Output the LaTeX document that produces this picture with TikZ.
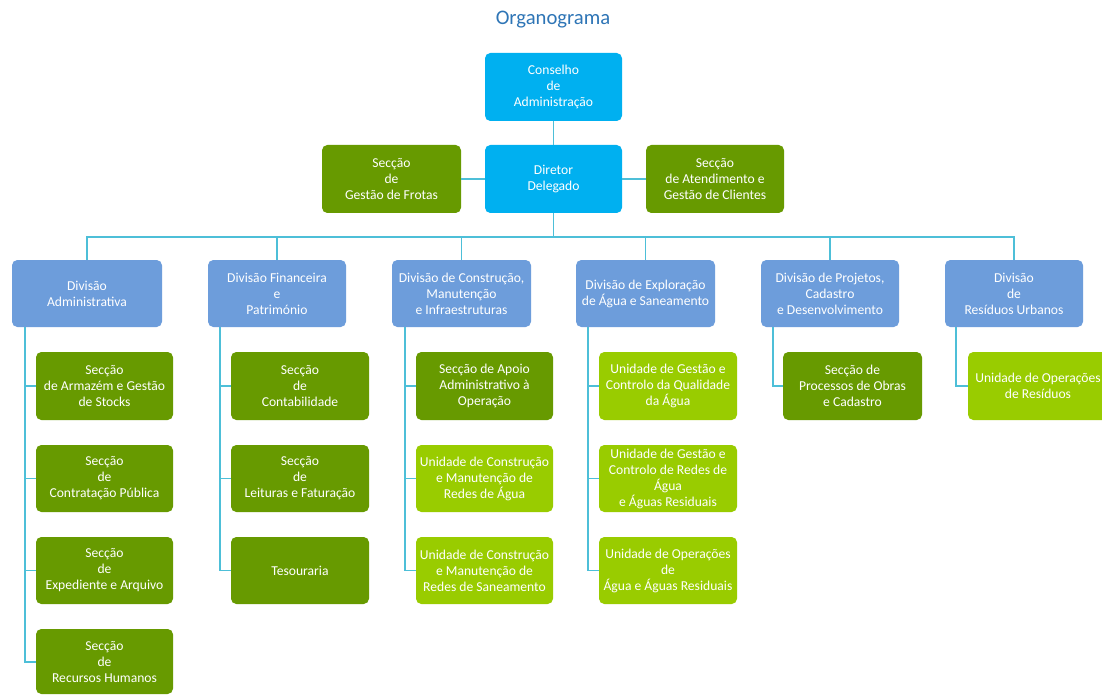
\documentclass[tikz,border=0pt]{standalone}
\usepackage{fontspec}
\setmainfont{Carlito}
\definecolor{cyanbox}{HTML}{00B0F0}
\definecolor{divblue}{HTML}{6D9DDB}
\definecolor{darkgreen}{HTML}{679A00}
\definecolor{lightgreen}{HTML}{99CC00}
\definecolor{linec}{HTML}{4DBFD8}
\definecolor{titleblue}{HTML}{2E75B6}
\begin{document}
\begin{tikzpicture}[x=0.75pt,y=-0.75pt,
  box/.style={rounded corners=4pt,text=white,align=center,inner sep=0pt,
    font=\fontsize{10.2}{12}\selectfont},
  topb/.style={box,fill=cyanbox},
  divb/.style={box,fill=divblue},
  dgb/.style={box,fill=darkgreen},
  lgb/.style={box,fill=lightgreen},
  conn/.style={draw=linec,line width=1.1pt}]
\useasboundingbox (0,0) rectangle (1102,695);
\fill[white] (0,0) rectangle (1102,695);
\node[text=titleblue,font=\fontsize{15.5}{18}\selectfont] (title) at (553,20) {Organograma};

% Top
\path[topb] (485,53) rectangle (622,121);
\node[box] (cons) at (553.5,87) {Conselho\\de\\Administração};
\path[topb] (485,145) rectangle (622,213);
\node[box] (dir) at (553.5,179) {Diretor\\Delegado};
\path[dgb] (322,145) rectangle (461,213);
\node[box] (frotas) at (391.5,179) {Secção\\de\\Gestão de Frotas};
\path[dgb] (646,145) rectangle (784,213);
\node[box] (atend) at (715,179) {Secção\\de Atendimento e\\Gestão de Clientes};

\coordinate (consb) at (553.5,121);
\coordinate (dirt) at (553.5,145);
\coordinate (dirl) at (485,179);
\coordinate (dirr) at (622,179);
\coordinate (dirb) at (553.5,213);
\coordinate (frr) at (461,179);
\coordinate (atl) at (646,179);
\draw[conn] (consb) -- (dirt);
\draw[conn] (frr) -- (dirl);
\draw[conn] (dirr) -- (atl);

% Divisions
\foreach \nm/\xa/\xb in {dadm/12/162, dfin/208/346, dcon/392/531, dexp/576/715, dpro/761/899, dres/945/1083}{
  \path[divb] (\xa,260) rectangle (\xb,327);
  \coordinate (\nm t) at ({(\xa+\xb)/2},260);
}
\node[box] (dadm) at (87,293.5) {Divisão\\Administrativa};
\node[box] (dfin) at (277,293.5) {Divisão Financeira\\e\\Património};
\node[box] (dcon) at (461.5,293.5) {Divisão de Construção,\\Manutenção\\e Infraestruturas};
\node[box] (dexp) at (645.5,293.5) {Divisão de Exploração\\de Água e Saneamento};
\node[box] (dpro) at (830,293.5) {Divisão de Projetos,\\Cadastro\\e Desenvolvimento};
\node[box] (dres) at (1014,293.5) {Divisão\\de\\Resíduos Urbanos};

\coordinate (bus) at (553.5,237);
\draw[conn] (dirb) -- (bus);
\foreach \nm in {dadm,dfin,dcon,dexp,dpro,dres}{
  \draw[conn] (bus) -| (\nm t);
}

% Admin children
\path[dgb] (36,352) rectangle (173,420);
\node[box] (a1) at (104.5,386) {Secção\\de Armazém e Gestão\\de Stocks};
\path[dgb] (36,445) rectangle (173,512);
\node[box] (a2) at (104.5,478.5) {Secção\\de\\Contratação Pública};
\path[dgb] (36,537) rectangle (173,604);
\node[box] (a3) at (104.5,570.5) {Secção\\de\\Expediente e Arquivo};
\path[dgb] (36,629) rectangle (173,694);
\node[box] (a4) at (104.5,662) {Secção\\de\\Recursos Humanos};
\coordinate (adms) at (25,327);
\draw[conn] (adms) |- (36,662);
\foreach \y in {386,478.5,570.5}{\draw[conn] (25,\y) -- (36,\y);}

% Fin children
\path[dgb] (231,352) rectangle (369,420);
\node[box] (f1) at (300,386) {Secção\\de\\Contabilidade};
\path[dgb] (231,445) rectangle (369,512);
\node[box] (f2) at (300,478.5) {Secção\\de\\Leituras e Faturação};
\path[dgb] (231,537) rectangle (369,604);
\node[box] (f3) at (300,570.5) {Tesouraria};
\coordinate (fins) at (220,327);
\draw[conn] (fins) |- (231,570.5);
\foreach \y in {386,478.5}{\draw[conn] (220,\y) -- (231,\y);}

% Construction children
\path[dgb] (416,352) rectangle (553,420);
\node[box] (c1) at (484.5,386) {Secção de Apoio\\Administrativo à\\Operação};
\path[lgb] (416,445) rectangle (553,512);
\node[box] (c2) at (484.5,478.5) {Unidade de Construção\\e Manutenção de\\Redes de Água};
\path[lgb] (416,537) rectangle (553,604);
\node[box] (c3) at (484.5,570.5) {Unidade de Construção\\e Manutenção de\\Redes de Saneamento};
\coordinate (cons) at (405,327);
\draw[conn] (cons) |- (416,570.5);
\foreach \y in {386,478.5}{\draw[conn] (405,\y) -- (416,\y);}

% Exploration children
\path[lgb] (599,352) rectangle (737,420);
\node[box] (e1) at (668,386) {Unidade de Gestão e\\Controlo da Qualidade\\da Água};
\path[lgb] (599,445) rectangle (737,512);
\node[box] (e2) at (668,478.5) {Unidade de Gestão e\\Controlo de Redes de\\Água\\e Águas Residuais};
\path[lgb] (599,537) rectangle (737,604);
\node[box] (e3) at (668,570.5) {Unidade de Operações\\de\\Água e Águas Residuais};
\coordinate (exps) at (588,327);
\draw[conn] (exps) |- (599,570.5);
\foreach \y in {386,478.5}{\draw[conn] (588,\y) -- (599,\y);}

% Projects child
\path[dgb] (783,352) rectangle (922,420);
\node[box] (p1) at (852.5,386) {Secção de\\Processos de Obras\\e Cadastro};
\coordinate (pros) at (773,327);
\draw[conn] (pros) |- (783,386);

% Residues child
\path[lgb] (968,352) rectangle (1110,420);
\node[box] (r1) at (1038,386) {Unidade de Operações\\de Resíduos};
\coordinate (ress) at (956,327);
\draw[conn] (ress) |- (968,386);
\end{tikzpicture}
\end{document}
